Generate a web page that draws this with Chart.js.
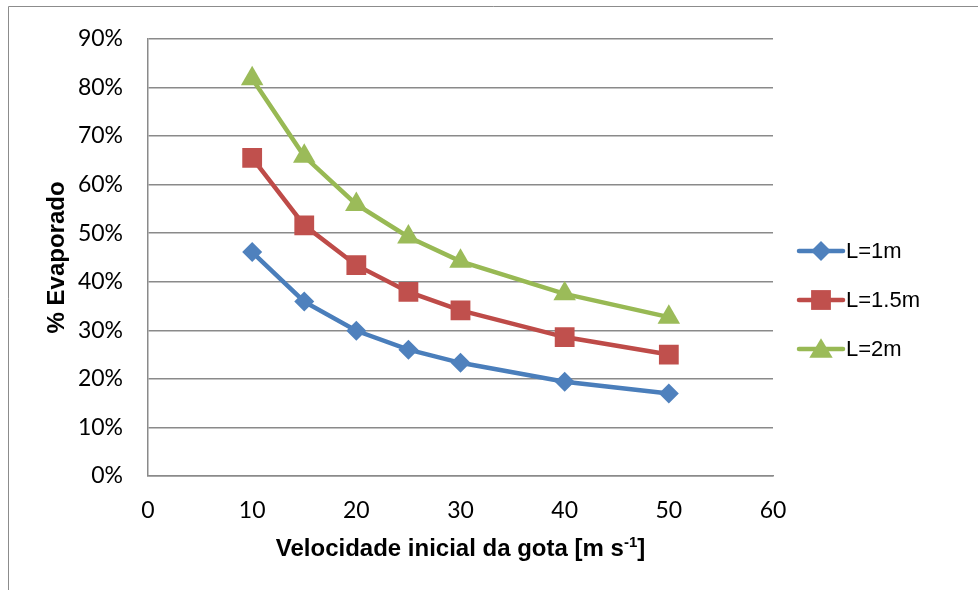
<!DOCTYPE html>
<html>
<head>
<meta charset="utf-8">
<script src="https://cdn.jsdelivr.net/npm/chart.js"></script>
<style>
  html, body { margin: 0; padding: 0; background: #fff; }
</style>
</head>
<body>
<canvas id="myChart" width="978" height="590"></canvas>
<script>
const ctx = document.getElementById("myChart").getContext("2d");

// Data (% evaporated vs initial drop speed)
const velocidade = [10, 15, 20, 25, 30, 40, 50];
const serieL1 = [46.1, 35.9, 29.9, 26.0, 23.3, 19.4, 17.0];
const serieL15 = [65.5, 51.6, 43.4, 37.9, 34.1, 28.6, 25.0];
const serieL2 = [81.8, 65.8, 55.9, 49.2, 44.2, 37.5, 32.7];
const seriesLabels = ["L=1m", "L=1.5m", "L=2m"];
const xTitle = "Velocidade inicial da gota [m s";
const yTitle = "% Evaporado";

const toPoints = (vals) => vals.map((v, i) => ({ x: velocidade[i], y: v }));

const gridGrey = "#8a8a8a";

// small marker painter, used for the hand-drawn legend
function marker(c, style, r, x, y, color) {
    c.fillStyle = color;
    c.beginPath();
    if (style === "rectRot") {
        c.moveTo(x, y - r); c.lineTo(x + r, y); c.lineTo(x, y + r); c.lineTo(x - r, y);
    } else if (style === "rect") {
        const s = Math.SQRT1_2 * r;
        c.rect(x - s, y - s, 2 * s, 2 * s);
    } else {
        const h = r * 1.5;
        c.moveTo(x, y - h / 2 - 1); c.lineTo(x + r * 0.9, y + h / 2 - 1); c.lineTo(x - r * 0.9, y + h / 2 - 1);
    }
    c.closePath();
    c.fill();
}

const extras = {
    id: "extras",
    beforeDraw(chart) {
        const c = chart.ctx;
        c.save();
        c.fillStyle = "#fff";
        c.fillRect(0, 0, chart.width, chart.height);
        c.strokeStyle = "#8c8c8c";
        c.lineWidth = 1;
        c.beginPath();
        c.moveTo(8.5, chart.height);
        c.lineTo(8.5, 6.5);
        c.lineTo(chart.width, 6.5);
        c.stroke();
        c.restore();
    },
    afterDraw(chart) {
        const c = chart.ctx;
        const area = chart.chartArea;
        c.save();
        // legend
        chart.data.datasets.forEach((ds, i) => {
            const y = 251 + i * 49;
            c.strokeStyle = ds.borderColor;
            c.lineWidth = ds.borderWidth;
            c.lineCap = "round";
            c.beginPath();
            c.moveTo(799, y);
            c.lineTo(843, y);
            c.stroke();
            marker(c, ds.pointStyle, ds.pointRadius, 821, y, ds.pointBackgroundColor);
            c.fillStyle = "#000";
            c.font = "22px 'Liberation Sans', Arial, sans-serif";
            c.textBaseline = "middle";
            c.textAlign = "left";
            c.fillText(ds.label, 846, y + 1);
        });
        // x axis title with superscript
        const main = "bold 24px 'Liberation Sans', Arial, sans-serif";
        const sup = "bold 15px 'Liberation Sans', Arial, sans-serif";
        c.font = main;
        const w1 = c.measureText(xTitle).width;
        const w3 = c.measureText("]").width;
        c.font = sup;
        const w2 = c.measureText("-1").width;
        let x = (area.left + area.right) / 2 - (w1 + w2 + w3) / 2;
        const yb = 556;
        c.fillStyle = "#000";
        c.textAlign = "left";
        c.textBaseline = "alphabetic";
        c.font = main;
        c.fillText(xTitle, x, yb);
        c.font = sup;
        c.fillText("-1", x + w1, yb - 9);
        c.font = main;
        c.fillText("]", x + w1 + w2, yb);
        c.restore();
    }
};

const data = {
    datasets: [
        {
            label: seriesLabels[0],
            data: toPoints(serieL1),
            borderColor: "#4a7ebb",
            backgroundColor: "#4f81bd",
            pointBackgroundColor: "#4f81bd",
            pointBorderWidth: 0,
            borderWidth: 4.5,
            pointStyle: "rectRot",
            pointRadius: 10,
        },
        {
            label: seriesLabels[1],
            data: toPoints(serieL15),
            borderColor: "#be4b48",
            backgroundColor: "#c0504d",
            pointBackgroundColor: "#c0504d",
            pointBorderWidth: 0,
            borderWidth: 4.5,
            pointStyle: "rect",
            pointRadius: 14,
        },
        {
            label: seriesLabels[2],
            data: toPoints(serieL2),
            borderColor: "#98b954",
            backgroundColor: "#9bbb59",
            pointBackgroundColor: "#9bbb59",
            pointBorderWidth: 0,
            borderWidth: 4.5,
            pointStyle: "triangle",
            pointRadius: 13,
        },
    ],
};

const tickFont = { family: "Lato, 'Open Sans', sans-serif", size: 23 };

const config = {
    type: "line",
    data: data,
    plugins: [extras],
    options: {
        responsive: false,
        animation: false,
        layout: { padding: { top: 38, right: 205, bottom: 0, left: 0 } },
        plugins: {
            legend: { display: false },
            tooltip: { enabled: false },
        },
        scales: {
            x: {
                type: "linear",
                min: 0,
                max: 60,
                ticks: { stepSize: 10, color: "#000", font: tickFont, padding: 21 },
                grid: { display: false, drawTicks: false },
                border: { display: true, color: gridGrey, width: 1.5 },
                afterFit: (scale) => { scale.height = 114; },
            },
            y: {
                min: 0,
                max: 90,
                ticks: {
                    stepSize: 10,
                    color: "#000",
                    font: tickFont,
                    padding: 25,
                    callback: function(value) {
                        return value + "%";
                    },
                },
                grid: { color: gridGrey, lineWidth: 1.5, drawTicks: false },
                border: { display: true, color: gridGrey, width: 1.5 },
                title: {
                    display: true,
                    text: yTitle,
                    color: "#000",
                    font: { family: "'Liberation Sans', Arial, sans-serif", size: 24, weight: "bold" },
                    padding: { top: 43, bottom: 0 },
                },
                afterFit: (scale) => { scale.width = 148; },
            },
        },
    },
};

const myChart = new Chart(ctx, config);
</script>
</body>
</html>
